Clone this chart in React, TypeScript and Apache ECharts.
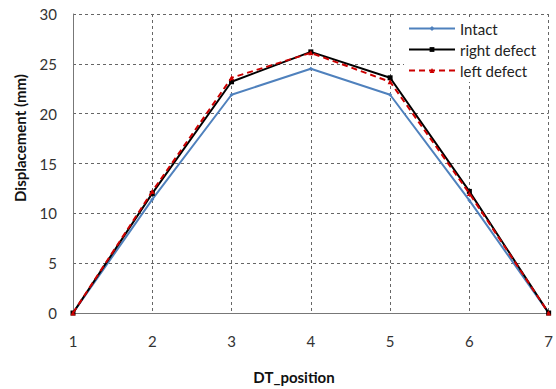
import React, { useEffect, useRef } from "react";
import * as echarts from "echarts";

const positions = [1, 2, 3, 4, 5, 6, 7];
const intact = [0, 11.4, 21.9, 24.5, 21.9, 11.3, 0];
const rightDefect = [0, 12.0, 23.2, 26.2, 23.6, 12.2, 0];
const leftDefect = [0, 12.2, 23.6, 26.1, 23.2, 12.0, 0];
const seriesNames = ["Intact", "right defect", "left defect"];
const xTitle = "DT_position";
const yTitle = "Displacement (mm)";

const FONT = "Lato, 'Open Sans', 'DejaVu Sans', sans-serif";

export default function App() {
  const ref = useRef<HTMLDivElement>(null);
  useEffect(() => {
    if (!ref.current) return;
    const chart = echarts.init(ref.current, null, { renderer: "svg" });
    const pair = (arr: number[]) => positions.map((p, i) => [p, arr[i]]);
    chart.setOption({
      animation: false,
      textStyle: { fontFamily: FONT },
      grid: { left: 73, right: 3, top: 14, bottom: 76 },
      legend: {
        orient: "vertical",
        left: 404,
        top: 17,
        itemGap: 6,
        itemWidth: 46,
        itemHeight: 6,
        backgroundColor: "#ffffff",
        padding: [4, 8, 4, 4],
        textStyle: { fontFamily: FONT, fontSize: 15, color: "#222" },
        data: seriesNames,
      },
      graphic: [
        {
          type: "text",
          x: 294,
          y: 377,
          style: {
            text: xTitle,
            fontFamily: FONT,
            fontSize: 15,
            fontWeight: "bold",
            fill: "#111",
            align: "center",
            verticalAlign: "middle",
          },
        },
        {
          type: "text",
          x: 20,
          y: 138,
          rotation: Math.PI / 2,
          style: {
            text: yTitle,
            fontFamily: FONT,
            fontSize: 15,
            fontWeight: "bold",
            fill: "#111",
            align: "center",
            verticalAlign: "middle",
          },
        },
      ],
      xAxis: {
        type: "value",
        min: 1,
        max: 7,
        interval: 1,
        axisLine: { lineStyle: { color: "#777", width: 1 } },
        axisTick: { show: false },
        axisLabel: { fontFamily: FONT, fontSize: 15, color: "#333", margin: 20 },
        splitLine: { show: true, lineStyle: { type: [3, 3], color: "#666", width: 1 } },
      },
      yAxis: {
        type: "value",
        min: 0,
        max: 30,
        interval: 5,
        axisLine: { show: true, lineStyle: { color: "#777", width: 1 } },
        axisTick: { show: false },
        axisLabel: { fontFamily: FONT, fontSize: 15, color: "#333", margin: 16 },
        splitLine: { show: true, lineStyle: { type: [3, 3], color: "#666", width: 1 } },
      },
      series: [
        {
          name: seriesNames[0],
          type: "line",
          data: pair(intact),
          symbol: "diamond",
          symbolSize: 4,
          lineStyle: { color: "#4F81BD", width: 2 },
          itemStyle: { color: "#4F81BD" },
          z: 2,
        },
        {
          name: seriesNames[1],
          type: "line",
          data: pair(rightDefect),
          symbol: "rect",
          symbolSize: 5,
          lineStyle: { color: "#000000", width: 2 },
          itemStyle: { color: "#000000" },
          z: 3,
        },
        {
          name: seriesNames[2],
          type: "line",
          data: pair(leftDefect),
          symbol: "triangle",
          symbolSize: 5,
          lineStyle: { color: "#CC0000", width: 2, type: [6, 4] },
          itemStyle: { color: "#CC0000" },
          z: 4,
        },
      ],
    });
    return () => chart.dispose();
  }, []);
  return <div ref={ref} style={{ width: 556, height: 389, position: "absolute", left: 0, top: 0 }} />;
}
